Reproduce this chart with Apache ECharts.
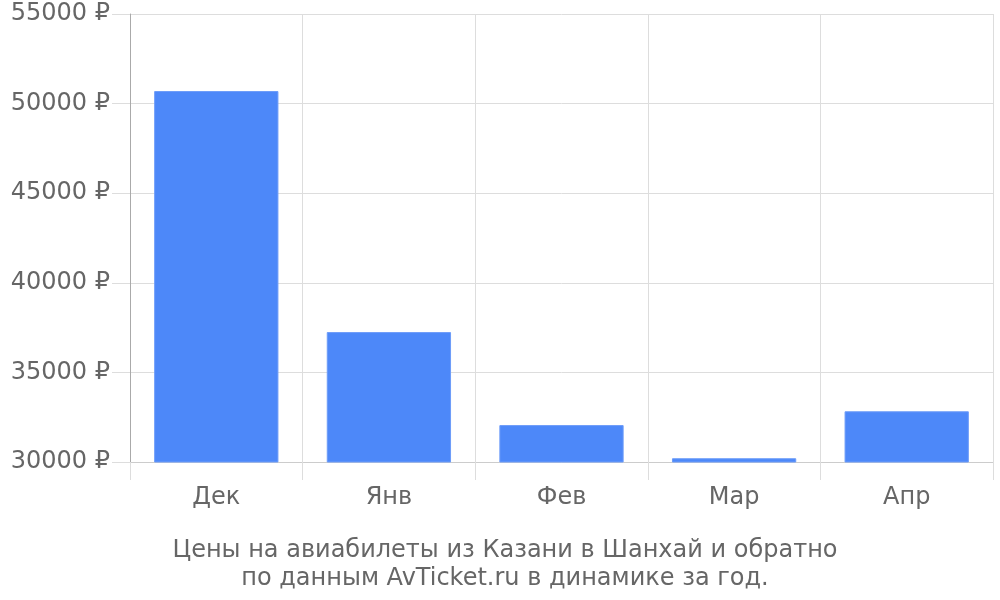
<!DOCTYPE html>
<html><head><meta charset="utf-8">
<script src="https://cdn.jsdelivr.net/npm/echarts@6/dist/echarts.min.js"></script>
<style>html,body{margin:0;padding:0;background:#fff}#c{width:1000px;height:600px}</style>
</head><body><div id="c"></div>
<script>
const categories = ['Дек', 'Янв', 'Фев', 'Мар', 'Апр'];
const prices = [50700, 37250, 32060, 30210, 32830];
const yTicks = {min: 30000, max: 55000, interval: 5000};
const titleLines = ['Цены на авиабилеты из Казани в Шанхай и обратно', 'по данным AvTicket.ru в динамике за год.'];

const chart = echarts.init(document.getElementById('c'));
chart.setOption({
  animation: false,
  textStyle: {fontFamily: 'DejaVu Sans'},
  title: {
    text: titleLines.join('\n'),
    left: 500, top: 532, textAlign: 'center',
    textStyle: {fontFamily: 'DejaVu Sans', fontSize: 24, fontWeight: 'normal', color: '#666', lineHeight: 28}
  },
  grid: {left: 130, right: 7, top: 14, bottom: 138},
  xAxis: {
    type: 'category', data: categories,
    axisLine: {lineStyle: {color: '#ccc', width: 1}},
    axisTick: {show: true, length: 18, lineStyle: {color: '#ddd'}},
    axisLabel: {fontSize: 24, color: '#666', margin: 24, fontFamily: 'DejaVu Sans'},
    splitLine: {show: true, lineStyle: {color: '#ddd'}}
  },
  yAxis: {
    type: 'value', min: yTicks.min, max: yTicks.max, interval: yTicks.interval,
    axisLine: {show: true, onZero: false, lineStyle: {color: '#aaa', width: 1}},
    axisTick: {show: true, length: 18, lineStyle: {color: '#ddd'}},
    axisLabel: {fontSize: 24, color: '#666', margin: 20, fontFamily: 'DejaVu Sans', formatter: v => v + ' ₽'},
    splitLine: {show: true, lineStyle: {color: '#ddd'}}
  },
  series: [{
    type: 'bar', data: prices, barWidth: '72%',
    itemStyle: {color: '#4d88f9', borderColor: '#6d9cf9', borderWidth: 1}
  }]
});
</script></body></html>
